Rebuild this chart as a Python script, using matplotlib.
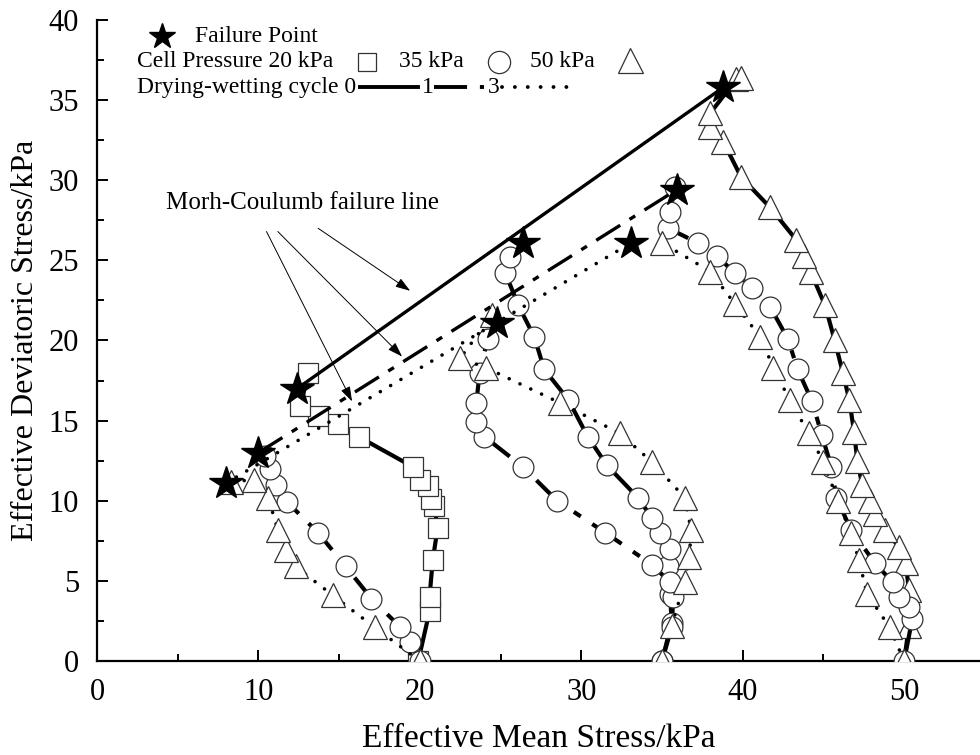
import matplotlib
matplotlib.use("Agg")
import matplotlib.pyplot as plt
from matplotlib.ticker import MultipleLocator

plt.rcParams['font.family'] = ['Liberation Serif', 'DejaVu Serif']

# ---------------- data (p' kPa, q kPa) ----------------
# 20 kPa cell pressure
p20_c0_p = [19.9, 20.6, 20.6, 20.8, 21.1, 20.9, 20.7, 20.5, 20.0, 19.6, 16.2, 14.9, 13.7, 12.6, 13.1]
p20_c0_q = [0.0, 3.1, 4.0, 6.3, 8.3, 9.7, 10.1, 10.9, 11.3, 12.1, 14.0, 14.8, 15.3, 15.9, 18.0]
p20_c1_p = [20.0, 19.4, 18.8, 17.0, 15.4, 13.7, 11.8, 11.1, 10.7, 10.4]
p20_c1_q = [0.0, 1.2, 2.1, 3.9, 5.9, 8.0, 9.9, 11.0, 12.0, 12.8]
p20_c3_p = [20.0, 17.2, 14.6, 12.3, 11.7, 11.2, 10.6, 9.7, 8.3]
p20_c3_q = [0.0, 2.1, 4.1, 5.9, 6.9, 8.2, 10.2, 11.3, 11.2]

# 35 kPa cell pressure
p35_c0_p = [35.0, 35.6, 35.5, 35.4, 35.5, 34.9, 34.4, 33.5, 31.6, 30.4, 29.2, 27.7, 27.1, 26.1, 25.3, 25.6]
p35_c0_q = [0.0, 2.4, 4.2, 5.9, 7.0, 8.0, 8.9, 10.2, 12.2, 14.0, 16.3, 18.2, 20.2, 22.2, 24.2, 25.2]
p35_c1_p = [35.0, 35.6, 35.7, 35.5, 34.4, 31.5, 28.5, 26.4, 24.0, 23.5, 23.5, 23.7, 24.2]
p35_c1_q = [0.0, 2.1, 4.0, 4.9, 6.0, 8.0, 10.0, 12.1, 14.0, 14.9, 16.1, 18.0, 20.1]
p35_c3_p = [35.0, 35.6, 36.4, 36.7, 36.8, 36.4, 34.4, 32.4, 28.7, 24.1, 22.5, 24.5]
p35_c3_q = [0.0, 2.2, 4.9, 6.5, 8.2, 10.2, 12.4, 14.2, 16.1, 18.3, 18.9, 21.6]

# 50 kPa cell pressure
p50_c0_p = [50.0, 50.3, 50.3, 50.1, 49.7, 48.8, 48.2, 47.9, 47.4, 47.1, 46.9, 46.6, 46.2, 45.7, 45.1,
            44.2, 43.8, 43.3, 41.7, 39.9, 38.8, 38.0, 38.0, 39.6, 39.9]
p50_c0_q = [0.0, 2.2, 4.4, 6.1, 7.1, 8.2, 9.2, 10.0, 11.0, 12.5, 14.3, 16.3, 18.0, 20.0, 22.2,
            24.3, 25.3, 26.3, 28.3, 30.2, 32.4, 33.3, 34.2, 36.3, 36.4]
p50_c1_p = [50.0, 50.5, 50.3, 49.7, 49.3, 48.2, 46.7, 45.8, 45.5, 44.9, 44.3, 43.4, 42.8, 41.7,
            40.6, 39.5, 38.4, 37.2, 35.4, 35.5, 35.8]
p50_c1_q = [0.0, 2.6, 3.4, 4.0, 4.9, 6.1, 8.2, 10.2, 12.1, 14.1, 16.2, 18.2, 20.1, 22.1,
            23.3, 24.2, 25.3, 26.1, 27.0, 28.0, 29.6]
p50_c3_p = [50.0, 49.1, 47.7, 47.2, 46.7, 45.9, 45.0, 44.1, 42.9, 41.9, 41.1, 39.5, 38.0, 35.0]
p50_c3_q = [0.0, 2.1, 4.2, 6.3, 8.0, 10.0, 12.4, 14.2, 16.3, 18.3, 20.2, 22.3, 24.3, 26.1]

# failure points
fail_p = [12.4, 10.0, 8.0, 26.4, 24.8, 38.8, 35.9, 33.1]
fail_q = [17.0, 13.0, 11.1, 26.1, 21.1, 35.8, 29.4, 26.1]

# Mohr-Coulomb failure lines (end points) for cycles 0, 1, 3
fl_c0_p = [12.4, 38.8]; fl_c0_q = [17.0, 35.8]
fl_c1_p = [10.0, 35.9]; fl_c1_q = [13.0, 29.4]
fl_c3_p = [8.0, 33.1];  fl_c3_q = [11.1, 26.1]

# ---------------- styles ----------------
DASHDOT = (0, (8.5, 3.3, 2.0, 3.3))
DOTTED = (0, (0.01, 3.3))

fig = plt.figure(figsize=(9.8, 7.55), dpi=100)
ax = fig.add_axes([97/980, 94/755, 883/980, 641/755])

mk = dict(markerfacecolor='white', markeredgecolor='#333333', markeredgewidth=0.9, color='black')

def path(p, q, ls, marker, ms, lw=3.0):
    kw = dict(linestyle=ls, linewidth=lw, marker=marker, markersize=ms, zorder=3, **mk)
    if ls == DOTTED:
        kw['dash_capstyle'] = 'round'
        kw['linewidth'] = 2.6
    ax.plot(p, q, **kw)

path(p20_c0_p, p20_c0_q, '-', 's', 14)
path(p20_c1_p, p20_c1_q, DASHDOT, 'o', 15)
path(p20_c3_p, p20_c3_q, DOTTED, '^', 17.5)
path(p35_c0_p, p35_c0_q, '-', 'o', 15)
path(p35_c1_p, p35_c1_q, DASHDOT, 'o', 15)
path(p35_c3_p, p35_c3_q, DOTTED, '^', 17.5)
path(p50_c0_p, p50_c0_q, '-', '^', 17.5)
path(p50_c1_p, p50_c1_q, DASHDOT, 'o', 15)
path(p50_c3_p, p50_c3_q, DOTTED, '^', 17.5)

ax.plot(fl_c0_p, fl_c0_q, '-', color='black', lw=2.4, zorder=4)
ax.plot(fl_c1_p, fl_c1_q, linestyle=DASHDOT, color='black', lw=2.4, zorder=4)
ax.plot(fl_c3_p, fl_c3_q, linestyle=DOTTED, color='black', lw=2.6, dash_capstyle='round', zorder=4)

ax.plot(fail_p, fail_q, linestyle='none', marker='*', markersize=25, color='black', zorder=6)

# annotation
ax.text(12.7, 28.6, 'Morh-Coulumb failure line', fontsize=18, ha='center', va='center')
arrow_kw = dict(arrowstyle='-|>,head_length=0.9,head_width=0.3', color='black', lw=0.7, shrinkA=0, shrinkB=0)
ax.annotate('', xy=(19.4, 23.1), xytext=(13.7, 27.0), arrowprops=arrow_kw, zorder=5)
ax.annotate('', xy=(18.9, 19.0), xytext=(11.2, 26.8), arrowprops=arrow_kw, zorder=5)
ax.annotate('', xy=(15.8, 16.2), xytext=(10.5, 26.8), arrowprops=arrow_kw, zorder=5)

# custom legend
lfs = 17
r1, r2, r3 = 39.0, 37.4, 35.8
ax.plot([4.0], [r1], marker='*', markersize=19, color='black', linestyle='none')
ax.text(6.1, r1, 'Failure Point', fontsize=lfs, va='center')
ax.text(2.5, r2, 'Cell Pressure 20 kPa', fontsize=lfs, va='center')
ax.plot([16.7], [r2], marker='s', markersize=13.5, linestyle='none', **mk)
ax.text(18.7, r2, '35 kPa', fontsize=lfs, va='center')
ax.plot([24.9], [r2], marker='o', markersize=16, linestyle='none', **mk)
ax.text(26.8, r2, '50 kPa', fontsize=lfs, va='center')
ax.plot([33.0], [r2 + 0.1], marker='^', markersize=18, linestyle='none', **mk)
ax.text(2.5, r3, 'Drying-wetting cycle 0', fontsize=lfs, va='center')
ax.plot([16.3, 19.9], [r3, r3], '-', color='black', lw=2.8)
ax.text(20.1, r3, '1', fontsize=lfs, va='center')
ax.plot([20.9, 24.0], [r3, r3], linestyle=DASHDOT, color='black', lw=2.8)
ax.text(24.2, r3, '3', fontsize=lfs, va='center')
ax.plot([25.1, 29.2], [r3, r3], linestyle=DOTTED, color='black', lw=2.8, dash_capstyle='round')

# axes
ax.set_xlim(0, 54.7)
ax.set_ylim(0, 40)
ax.spines['top'].set_visible(False)
ax.spines['right'].set_visible(False)
ax.spines['left'].set_linewidth(1.6)
ax.spines['bottom'].set_linewidth(1.6)
ax.xaxis.set_major_locator(MultipleLocator(10))
ax.xaxis.set_minor_locator(MultipleLocator(5))
ax.yaxis.set_major_locator(MultipleLocator(5))
ax.yaxis.set_minor_locator(MultipleLocator(2.5))
ax.tick_params(which='both', direction='in', width=1.4, labelsize=22)
ax.tick_params(which='major', length=8)
ax.tick_params(which='minor', length=5)
ax.tick_params(axis='x', pad=12)
ax.tick_params(axis='y', pad=13)
ax.set_xlabel('Effective Mean Stress/kPa', fontsize=24, labelpad=12)
ax.set_ylabel('Effective Deviatoric Stress/kPa', fontsize=23, labelpad=6)

fig.savefig('out.png', dpi=100)
